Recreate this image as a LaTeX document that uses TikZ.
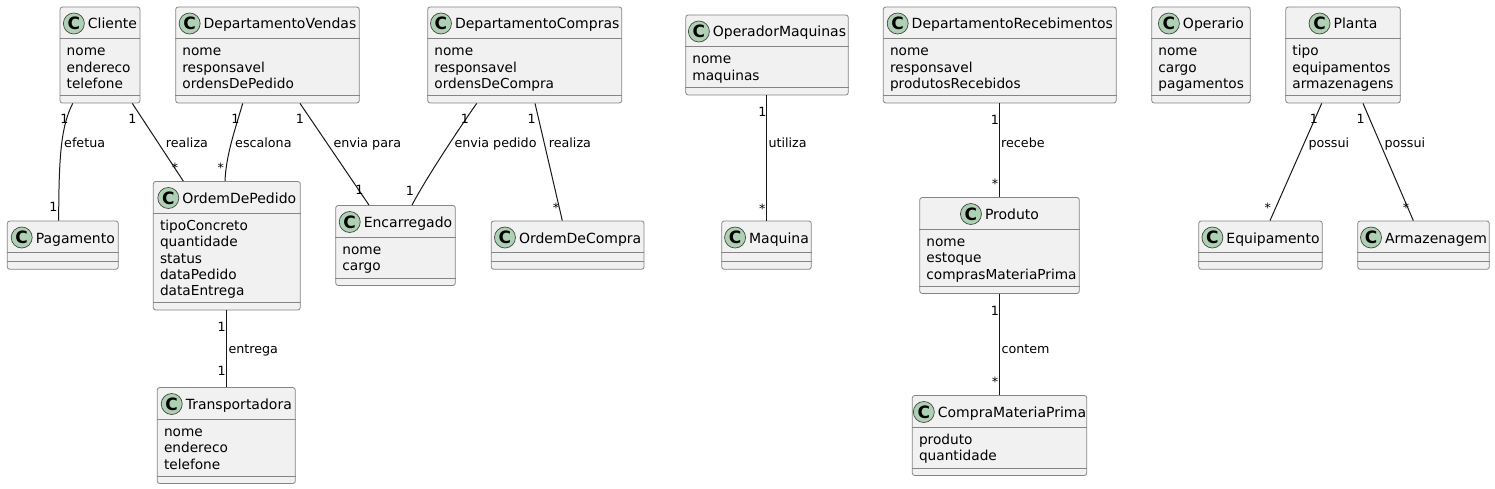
\documentclass[tikz,border=0pt]{standalone}
\usepackage{fontspec}
\setmainfont{DejaVu Sans}
\usetikzlibrary{positioning}
\definecolor{umlfill}{HTML}{F1F1F1}
\definecolor{umlline}{HTML}{181818}
\definecolor{umlborder}{HTML}{858585}
\definecolor{umlmark}{HTML}{ADD1B2}
\tikzset{
  classbox/.style={draw=umlborder, line width=0.8pt, fill=umlfill, rounded corners=2.5pt, inner sep=0pt},
  classsep/.style={draw=umlborder, line width=0.8pt},
  classtitle/.style={inner sep=0pt, text height=13pt, text depth=2pt, font=\fontsize{14}{16}\selectfont},
  classmark/.style={circle, draw=umlline!80, line width=0.7pt, fill=umlmark, minimum size=21pt, inner sep=0pt, font=\fontsize{17}{17}\selectfont\bfseries},
  attr/.style={inner sep=0pt, anchor=base west, font=\fontsize{13.7}{16}\selectfont},
  assoc/.style={draw=umlline, line width=1pt},
  mult/.style={inner sep=0pt, anchor=base, font=\fontsize{12.7}{15}\selectfont},
  assoclabel/.style={inner sep=0pt, anchor=base west, font=\fontsize{12.7}{15}\selectfont},
}
% id, x1, y1, x2, y2, title, attributes
\newcommand{\umlclass}[7]{%
  \node[classbox, minimum width={(#4-#2)*1pt}, minimum height={(#5-#3)*1pt}] (#1) at ({(#2+#4)/2},{(#3+#5)/2}) {};
  \draw[classsep] ([yshift=-32pt]#1.north west) -- ([yshift=-32pt]#1.north east);
  \draw[classsep] ([yshift=8pt]#1.south west) -- ([yshift=8pt]#1.south east);
  \node[classtitle, anchor=base] (#1-t) at ({(#2+#4)/2+12.5},#3+22) {#6};
  \node[classmark, left=3pt of #1-t] (#1-c) {C};
  \if\relax\detokenize{#7}\relax\else
    \foreach \attrname [count=\i] in {#7}
      \node[attr] (#1-a\i) at (#2+6.5,{#3+49+16.3*(\i-1)}) {\attrname};
  \fi
}
\begin{document}
\begin{tikzpicture}[x=1pt, y=-1pt]
\path[use as bounding box, fill=white] (0,0) rectangle (1495,489);
% classes
\umlclass{cliente}{60}{7}{140}{103}{Cliente}{nome,endereco,telefone}
\umlclass{vendas}{175.7}{7}{359.3}{103}{DepartamentoVendas}{nome,responsavel,ordensDePedido}
\umlclass{compras}{427.7}{7}{621.7}{103}{DepartamentoCompras}{nome,responsavel,ordensDeCompra}
\umlclass{operador}{685.7}{15}{848.3}{95}{OperadorMaquinas}{nome,maquinas}
\umlclass{recebimentos}{883.3}{7}{1116.3}{103}{DepartamentoRecebimentos}{nome,responsavel,produtosRecebidos}
\umlclass{operario}{1151.7}{7}{1250.3}{103}{Operario}{nome,cargo,pagamentos}
\umlclass{planta}{1285.7}{7}{1400.3}{103}{Planta}{tipo,equipamentos,armazenagens}
\umlclass{pagamento}{7.3}{221}{118.3}{269.3}{Pagamento}{}
\umlclass{pedido}{153.3}{181.5}{300.3}{310}{OrdemDePedido}{tipoConcreto,quantidade,status,dataPedido,dataEntrega}
\umlclass{encarregado}{335.7}{205.5}{455.3}{285.5}{Encarregado}{nome,cargo}
\umlclass{ordemcompra}{491.3}{221}{644}{269.3}{OrdemDeCompra}{}
\umlclass{maquina}{721.7}{221}{811.3}{269.3}{Maquina}{}
\umlclass{produto}{919.7}{197.5}{1079.3}{293.5}{Produto}{nome,estoque,comprasMateriaPrima}
\umlclass{equipamento}{1198.7}{221}{1322.3}{269.3}{Equipamento}{}
\umlclass{armazenagem}{1357.7}{221}{1489.3}{269.3}{Armazenagem}{}
\umlclass{transportadora}{157.3}{387.5}{295.3}{483.5}{Transportadora}{nome,endereco,telefone}
\umlclass{compramp}{912.3}{395.5}{1086.7}{475.5}{CompraMateriaPrima}{produto,quantidade}
% associations
\draw[assoc] (cliente.south -| 72.7,0) .. controls (62,125) and (58.7,150) .. (pagamento.north -| 58.7,0);
\draw[assoc] (cliente.south -| 132.3,0) -- (pedido.north -| 183.3,0);
\draw[assoc] (vendas.south -| 242.7,0) .. controls (235,130) and (226,155) .. (pedido.north -| 225,0);
\draw[assoc] (vendas.south -| 300,0) -- (encarregado.north -| 369,0);
\draw[assoc] (compras.south -| 476.7,0) .. controls (458,130) and (425,180) .. (encarregado.north -| 412,0);
\draw[assoc] (compras.south -| 535,0) -- (ordemcompra.north -| 562.3,0);
\draw[assoc] (operador.south -| 766.3,0) -- (maquina.north -| 766.3,0);
\draw[assoc] (recebimentos.south -| produto.north) -- (produto.north);
\draw[assoc] (produto.south) -- (compramp.north -| produto.south);
\draw[assoc] (pedido.south) -- (transportadora.north -| pedido.south);
\draw[assoc] (planta.south -| 1321.7,0) -- (equipamento.north -| 1270,0);
\draw[assoc] (planta.south -| 1363,0) -- (armazenagem.north -| 1413.3,0);
% labels
\node[assoclabel] (efetua) at (64,147.3) {efetua};
\node[assoclabel] (realiza1) at (165.7,147.3) {realiza};
\node[assoclabel] (escalona) at (235,147.3) {escalona};
\node[assoclabel] (enviapara) at (333.3,147.3) {envia para};
\node[assoclabel] (enviapedido) at (454.3,147.3) {envia pedido};
\node[assoclabel] (realiza2) at (548.7,147.3) {realiza};
\node[assoclabel] (utiliza) at (768.3,147.3) {utiliza};
\node[assoclabel] (recebe) at (1001,147.3) {recebe};
\node[assoclabel] (contem) at (1001.3,353) {contem};
\node[assoclabel] (entrega) at (228.3,353) {entrega};
\node[assoclabel] (possui1) at (1308.3,147.3) {possui};
\node[assoclabel] (possui2) at (1384.3,147.3) {possui};
% multiplicities
\node[mult] (m1) at (64.3,123.3) {1};
\node[mult] (m2) at (53.3,211.7) {1};
\node[mult] (m3) at (132.3,124) {1};
\node[mult] (m4) at (175,172) {*};
\node[mult] (m5) at (235.3,123.3) {1};
\node[mult] (m6) at (220.7,172) {*};
\node[mult] (m7) at (300,124) {1};
\node[mult] (m8) at (359.3,194.3) {1};
\node[mult] (m9) at (465,123.3) {1};
\node[mult] (m10) at (410,195) {1};
\node[mult] (m11) at (531.7,123.3) {1};
\node[mult] (m12) at (556,212) {*};
\node[mult] (m13) at (762.3,116.7) {1};
\node[mult] (m14) at (762.3,213) {*};
\node[mult] (m15) at (995,124.3) {1};
\node[mult] (m16) at (995,188.7) {*};
\node[mult] (m17) at (995,315) {1};
\node[mult] (m18) at (995,386.3) {*};
\node[mult] (m19) at (221.7,331.7) {1};
\node[mult] (m20) at (221.7,375.7) {1};
\node[mult] (m21) at (1314,123.3) {1};
\node[mult] (m22) at (1267.7,212) {*};
\node[mult] (m23) at (1360.7,123.3) {1};
\node[mult] (m24) at (1406,212) {*};
\end{tikzpicture}
\end{document}
